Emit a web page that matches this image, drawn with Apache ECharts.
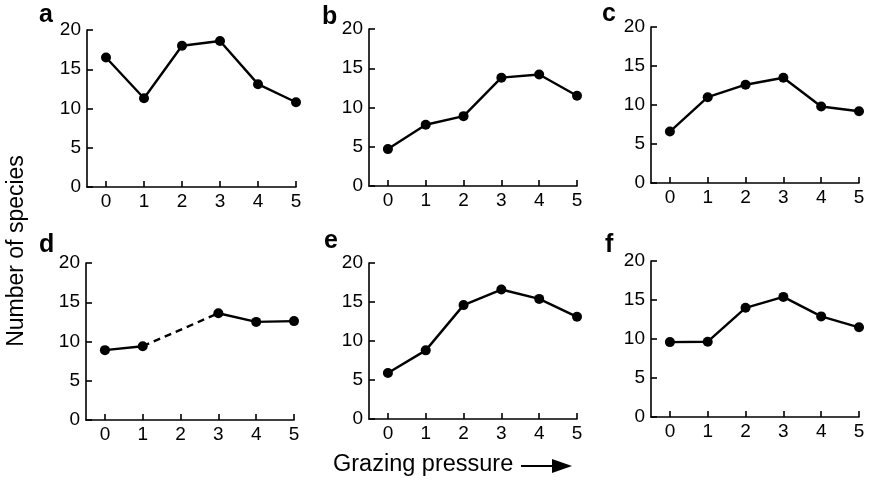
<!DOCTYPE html>
<html>
<head>
<meta charset="utf-8">
<script src="https://cdn.jsdelivr.net/npm/echarts@6/dist/echarts.min.js"></script>
<style>
  html, body { margin: 0; padding: 0; background: #fff; }
  #chart { width: 873px; height: 481px; }
</style>
</head>
<body>
<div id="chart"></div>
<script>
// Grazing pressure levels (x) and species counts for the six sites
const grazingLevels = [0, 1, 2, 3, 4, 5];
const yTicks = [0, 5, 10, 15, 20];
const panelLetters = ['a', 'b', 'c', 'd', 'e', 'f'];

const speciesA = [16.5, 11.3, 18.0, 18.6, 13.1, 10.8];
const speciesB = [4.7, 7.8, 8.9, 13.8, 14.2, 11.5];
const speciesC = [6.6, 11.0, 12.6, 13.5, 9.8, 9.2];
const speciesD = [8.9, 9.4, null, 13.6, 12.5, 12.6];   // no sample at level 2
const speciesE = [5.9, 8.8, 14.6, 16.6, 15.4, 13.1];
const speciesF = [9.6, 9.65, 14.0, 15.4, 12.9, 11.5];

const allSpecies = [speciesA, speciesB, speciesC, speciesD, speciesE, speciesF];

const FONT = "'Liberation Sans', Arial, Helvetica, sans-serif";

// Panel frames: [left, top, width, height]
const frames = [
  [87, 30, 209, 157],
  [369, 29, 208, 157],
  [651, 27, 208, 156],
  [86, 263, 208, 157],
  [369, 263, 208, 156],
  [651, 261, 208, 156]
];
// Panel letter anchors: [x, y]
const letterPos = [[39, 15], [322, 17], [602, 14], [39, 245], [324, 241], [605, 245]];

const grids = [], xAxes = [], yAxes = [], series = [], graphics = [];

frames.forEach((f, i) => {
  grids.push({ left: f[0], top: f[1], width: f[2], height: f[3] });
  xAxes.push({
    type: 'value', gridIndex: i, min: -0.5, max: 5,
    axisLine: { show: true, onZero: false, lineStyle: { color: '#000', width: 1.6 } },
    axisTick: { show: true, inside: true, length: 6, customValues: grazingLevels,
                lineStyle: { color: '#000', width: 1.6 } },
    axisLabel: { customValues: grazingLevels, color: '#000', fontSize: 19,
                 fontFamily: FONT, margin: 5 },
    splitLine: { show: false }
  });
  yAxes.push({
    type: 'value', gridIndex: i, min: yTicks[0], max: yTicks[yTicks.length - 1], interval: 5,
    axisLine: { show: true, onZero: false, lineStyle: { color: '#000', width: 1.6 } },
    axisTick: { show: true, inside: true, length: 6, lineStyle: { color: '#000', width: 1.6 } },
    axisLabel: { color: '#000', fontSize: 19, fontFamily: FONT, margin: 6 },
    splitLine: { show: false }
  });

  const vals = allSpecies[i];
  series.push({
    type: 'line', xAxisIndex: i, yAxisIndex: i,
    data: grazingLevels.map((g, k) => [g, vals[k] == null ? '-' : vals[k]]),
    connectNulls: false,
    symbol: 'circle', symbolSize: 10,
    itemStyle: { color: '#000' },
    lineStyle: { color: '#000', width: 2.4 },
    z: 3
  });

  // dashed link across any missing level
  vals.forEach((v, k) => {
    if (v == null && k > 0 && k < vals.length - 1) {
      series.push({
        type: 'line', xAxisIndex: i, yAxisIndex: i,
        data: [[grazingLevels[k - 1], vals[k - 1]], [grazingLevels[k + 1], vals[k + 1]]],
        symbol: 'none',
        lineStyle: { color: '#000', width: 2.4, type: [7, 5] },
        z: 2
      });
    }
  });

  graphics.push({
    type: 'text', x: letterPos[i][0], y: letterPos[i][1],
    style: { text: panelLetters[i], font: 'bold 25px ' + FONT, fill: '#000',
             textAlign: 'left', textVerticalAlign: 'middle' }
  });
});

graphics.push({
  type: 'text', x: 17, y: 251, rotation: Math.PI / 2,
  style: { text: 'Number of species', font: '23px ' + FONT, fill: '#000',
           textAlign: 'center', textVerticalAlign: 'middle' }
});
graphics.push({
  type: 'text', x: 333, y: 465,
  style: { text: 'Grazing pressure', font: '23.5px ' + FONT, fill: '#000',
           textAlign: 'left', textVerticalAlign: 'middle' }
});
graphics.push({
  type: 'line', shape: { x1: 521, y1: 466, x2: 556, y2: 466 },
  style: { stroke: '#000', lineWidth: 2.2 }
});
graphics.push({
  type: 'polygon', shape: { points: [[552, 459], [572, 466], [552, 473]] },
  style: { fill: '#000' }
});

const chart = echarts.init(document.getElementById('chart'), null, { renderer: 'canvas' });
chart.setOption({
  animation: false,
  backgroundColor: '#fff',
  grid: grids,
  xAxis: xAxes,
  yAxis: yAxes,
  series: series,
  graphic: graphics
});
</script>
</body>
</html>
